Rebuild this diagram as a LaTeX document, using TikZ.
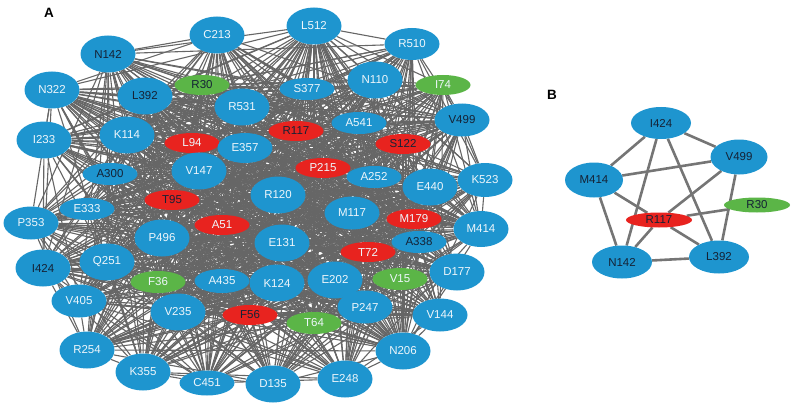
\documentclass[tikz,border=0pt]{standalone}
\usepackage{fontspec}
\setmainfont{Liberation Sans}
\usetikzlibrary{shapes.geometric, backgrounds}

\definecolor{resblue}{HTML}{1E95CF}
\definecolor{resred}{HTML}{E8231F}
\definecolor{resgreen}{HTML}{5BB547}
\definecolor{edgegray}{HTML}{666666}
\definecolor{darktxt}{HTML}{152235}
\definecolor{lighttxt}{HTML}{EEF6FB}

\tikzset{
  res/.style={ellipse, fill=resblue, text=lighttxt, inner sep=0pt,
    minimum width=55pt, minimum height=37pt, font=\fontsize{11.5}{13}\selectfont},
  flat/.style={res, minimum height=22pt},
  hot/.style={res, fill=resred, minimum height=20pt},
  key/.style={res, fill=resgreen, minimum height=20pt},
  dark/.style={text=darktxt},
  edgeA/.style={edgegray, line width=1.1pt},
  edgeB/.style={edgegray!90, line width=2.6pt},
  panel/.style={font=\fontsize{13.5}{14}\selectfont\bfseries}
}

\def\Anodes{C213,N142,N322,L392,R30,R531,I233,K114,L94,E357,A300,V147,T95,E333,L512,R510,N110,I74,S377,V499,R117,A541,S122,P215,A252,E440,K523,R120,M117,M179,M414,E131,A338,T72,D177,K124,E202,V15,P247,V144,T64,N206,E248,D135,P353,A51,P496,I424,Q251,F36,A435,V405,V235,F56,R254,K355,C451}

\begin{document}
\begin{tikzpicture}[x=1pt, y=-1pt]
  \useasboundingbox (0,0) rectangle (794,409);

  % panel A
  \node[panel] (labA) at (49,13) {A};
  \node[res] (C213) at (217,35) {C213};
  \node[res,dark] (N142) at (108,54) {N142};
  \node[res] (N322) at (52,90) {N322};
  \node[res,dark] (L392) at (145,96) {L392};
  \node[key,dark] (R30) at (202,85) {R30};
  \node[res] (R531) at (242,107) {R531};
  \node[res] (I233) at (44,140) {I233};
  \node[res] (K114) at (127,135) {K114};
  \node[hot] (L94) at (192,143) {L94};
  \node[res, minimum height=30pt] (E357) at (245,148) {E357};
  \node[flat,dark] (A300) at (110,174) {A300};
  \node[res] (V147) at (199,171) {V147};
  \node[hot,dark] (T95) at (172,200) {T95};
  \node[flat] (E333) at (87,209) {E333};
  \node[res] (L512) at (314,26) {L512};
  \node[res, minimum height=32pt] (R510) at (412,44) {R510};
  \node[res] (N110) at (375,80) {N110};
  \node[key] (I74) at (443,85) {I74};
  \node[flat] (S377) at (307,89) {S377};
  \node[res,dark, minimum height=33pt] (V499) at (462,120) {V499};
  \node[hot,dark] (R117) at (296,131) {R117};
  \node[flat] (A541) at (359,123) {A541};
  \node[hot,dark] (S122) at (403,144) {S122};
  \node[hot] (P215) at (323,168) {P215};
  \node[flat] (A252) at (374,177) {A252};
  \node[res] (E440) at (430,187) {E440};
  \node[res, minimum height=34pt] (K523) at (485,180) {K523};
  \node[res] (R120) at (278,195) {R120};
  \node[res, minimum height=33pt] (M117) at (352,213) {M117};
  \node[hot] (M179) at (414,219) {M179};
  \node[res, minimum height=36pt] (M414) at (481,229) {M414};
  \node[res] (E131) at (282,243) {E131};
  \node[flat,dark] (A338) at (419,242) {A338};
  \node[hot] (T72) at (368,252) {T72};
  \node[res] (D177) at (457,272) {D177};
  \node[res] (K124) at (277,283) {K124};
  \node[res] (E202) at (335,280) {E202};
  \node[key, minimum height=22pt] (V15) at (400,279) {V15};
  \node[res, minimum height=33pt] (P247) at (365,307) {P247};
  \node[res, minimum height=33pt] (V144) at (440,315) {V144};
  \node[key, minimum height=22pt] (T64) at (314,323) {T64};
  \node[res] (N206) at (403,351) {N206};
  \node[res] (E248) at (345,379) {E248};
  \node[res] (D135) at (273,384) {D135};
  \node[res, minimum height=33pt] (P353) at (31,223) {P353};
  \node[hot] (A51) at (222,225) {A51};
  \node[res] (P496) at (162,238) {P496};
  \node[res,dark] (I424) at (43,268) {I424};
  \node[res] (Q251) at (107,262) {Q251};
  \node[key, minimum height=22pt] (F36) at (158,282) {F36};
  \node[flat, minimum height=24pt] (A435) at (222,281) {A435};
  \node[res, minimum height=33pt] (V405) at (79,301) {V405};
  \node[res] (V235) at (178,312) {V235};
  \node[hot,dark] (F56) at (250,315) {F56};
  \node[res] (R254) at (87,350) {R254};
  \node[res] (K355) at (143,372) {K355};
  \node[flat, minimum height=25pt] (C451) at (207,383) {C451};

  % panel B
  \node[panel] (labB) at (552,95) {B};
  \node[res,dark, minimum width=60pt, minimum height=32pt] (bI424) at (661,123) {I424};
  \node[res,dark, minimum width=57pt, minimum height=35pt] (bV499) at (739,157) {V499};
  \node[res,dark, minimum width=58pt, minimum height=35pt] (bM414) at (594,180) {M414};
  \node[key,dark, minimum width=66pt, minimum height=15pt] (bR30) at (757,205) {R30};
  \node[hot,dark, minimum width=66pt, minimum height=15pt] (bR117) at (659,220) {R117};
  \node[res,dark, minimum width=60pt, minimum height=33pt] (bN142) at (622,262) {N142};
  \node[res,dark, minimum width=60pt, minimum height=33pt] (bL392) at (719,257) {L392};

  \begin{pgfonlayer}{background}
    % dense interaction mesh
    \foreach \a [count=\i] in \Anodes {
      \foreach \b [count=\j] in \Anodes {
        \ifnum\j>\i
          \pgfmathtruncatemacro\h{mod(mod(\i*\j,11)*7+\i*3+\j*5,11)}
          \ifnum\h<7 \draw[edgeA] (\a) -- (\b); \fi
        \fi
      }
    }
    \foreach \p/\q in {bI424/bM414, bI424/bV499, bI424/bN142, bI424/bL392,
        bM414/bV499, bM414/bR117, bM414/bN142, bV499/bR117, bV499/bL392,
        bR30/bR117, bR117/bL392, bR117/bN142, bN142/bL392}
      \draw[edgeB] (\p) -- (\q);
  \end{pgfonlayer}
\end{tikzpicture}
\end{document}
